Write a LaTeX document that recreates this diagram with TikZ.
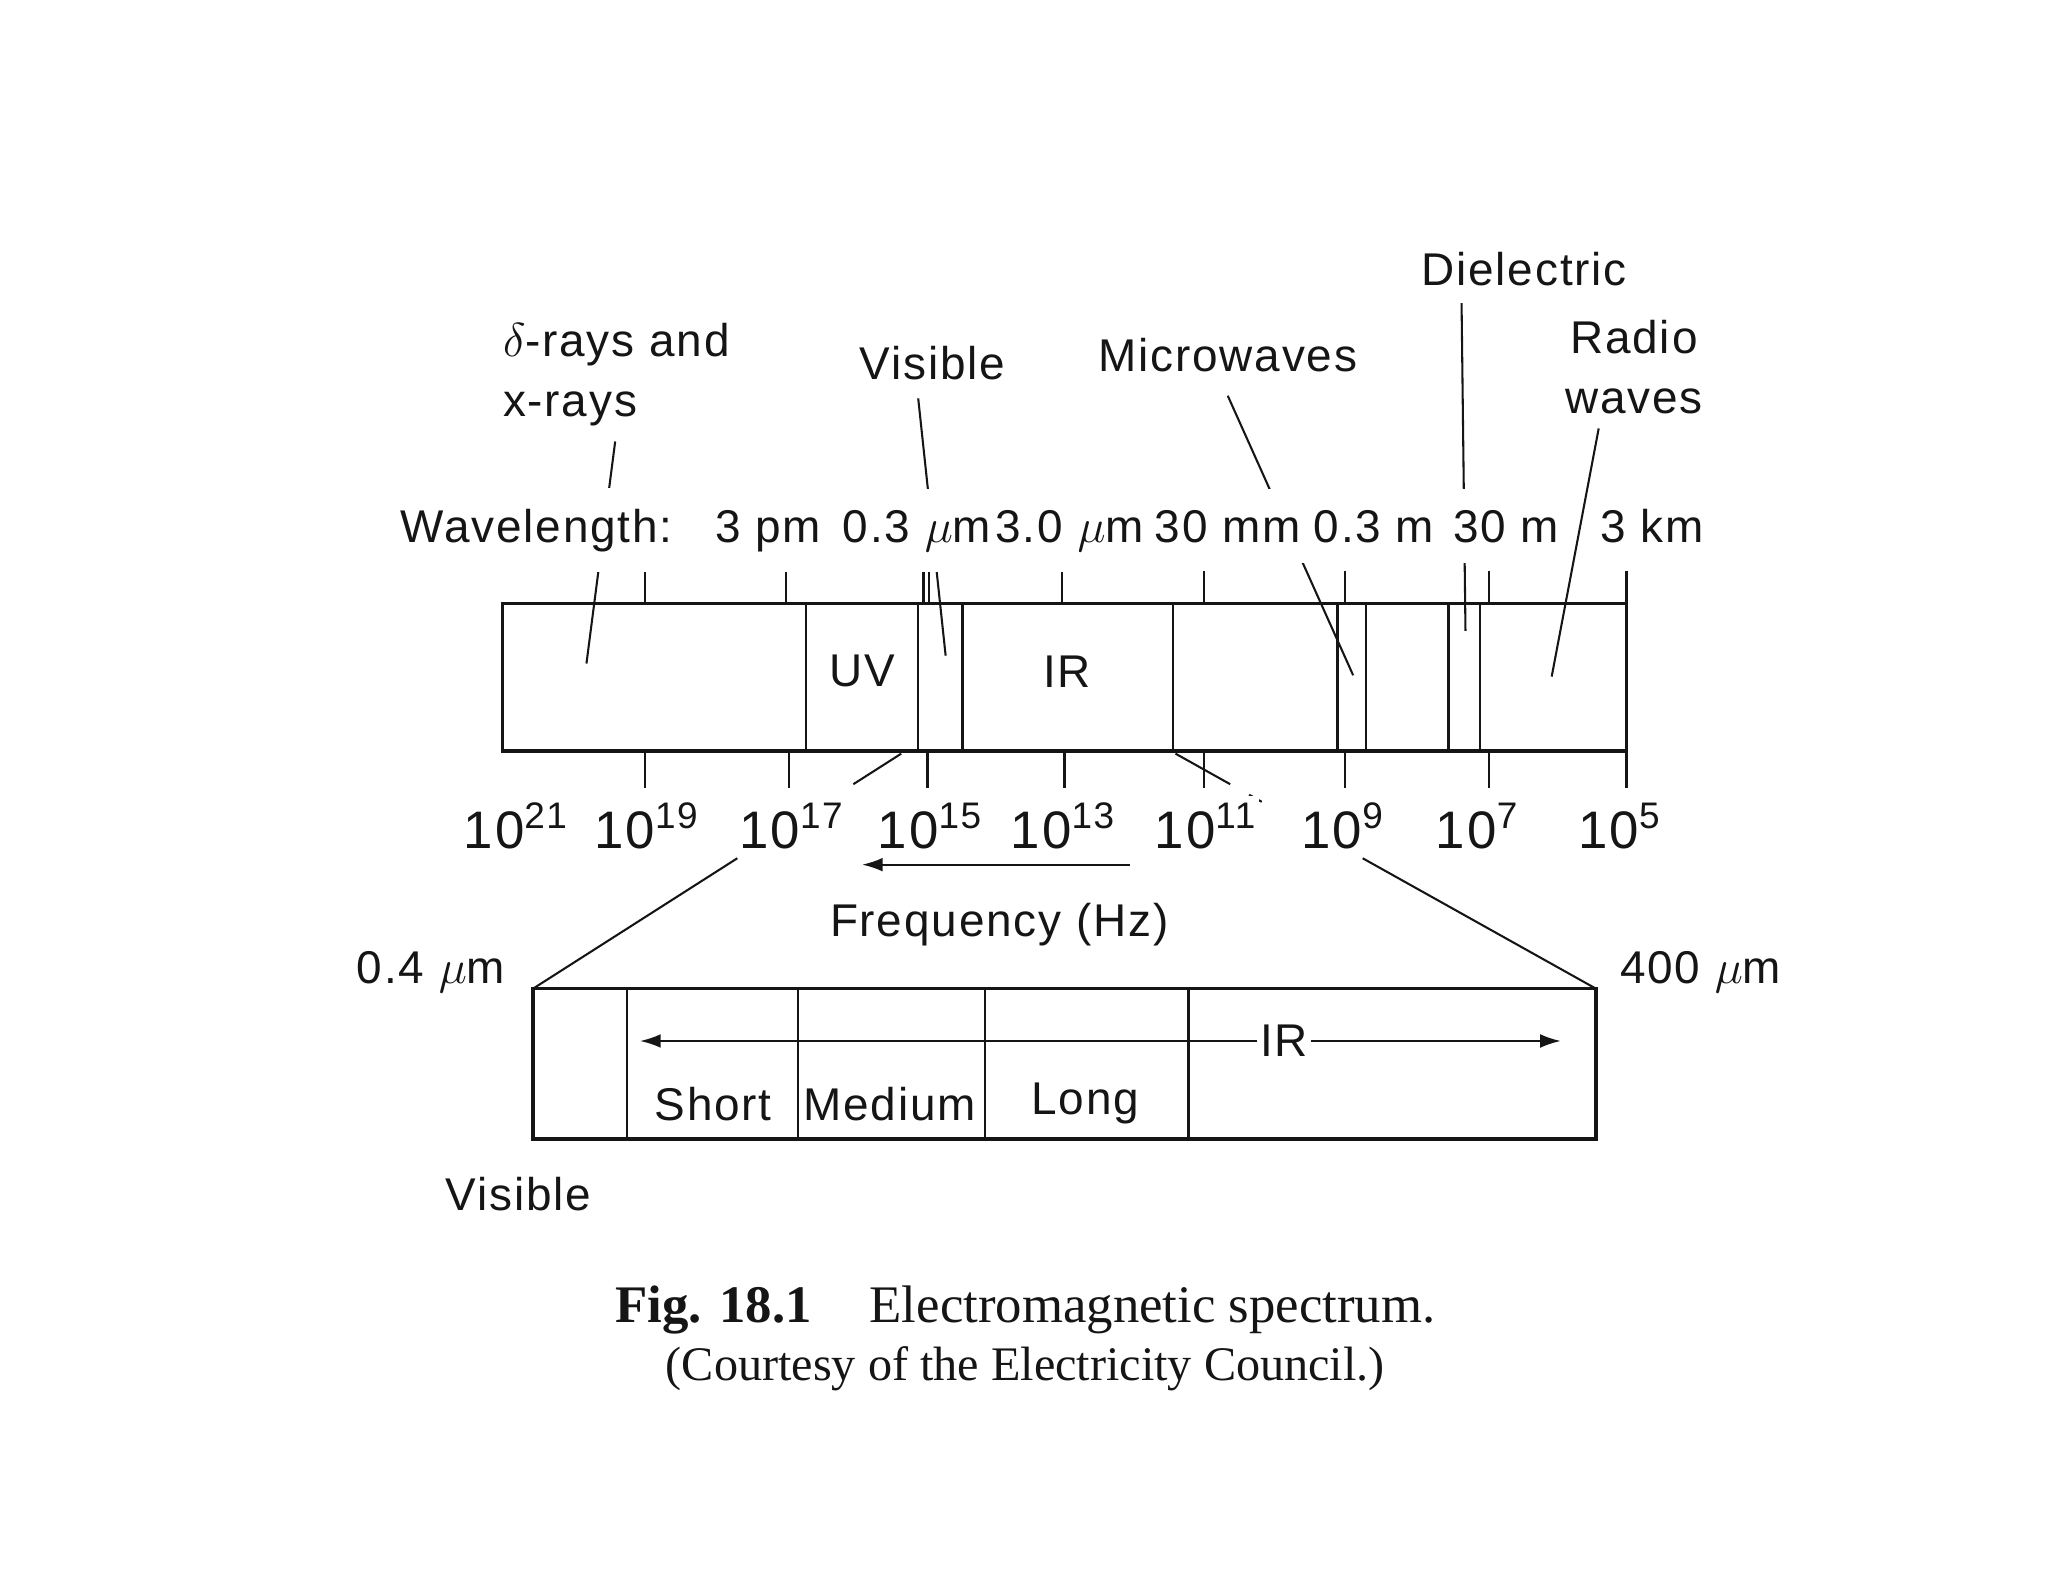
\documentclass[tikz,border=0pt]{standalone}
\usepackage{fontspec}
\setmainfont{Liberation Serif}
\newfontfamily\figsans[LetterSpace=4]{Liberation Sans}
\usetikzlibrary{arrows.meta,calc}
\definecolor{Ink}{HTML}{151515}
\tikzset{
  >=Latex,
  bar/.style={line width=1.4pt,draw=Ink},
  tck/.style={line width=1pt,draw=Ink},
  lead/.style={line width=.9pt,draw=Ink},
  lab/.style={font=\figsans\fontsize{20}{26}\selectfont,inner sep=1pt,align=center,text=Ink},
  wl/.style={lab,fill=white,inner xsep=1.5pt,inner ysep=9pt,anchor=base},
  fq/.style={lab,font=\figsans\fontsize{23}{27}\selectfont,fill=white,inner xsep=1pt,inner ysep=3pt,anchor=base},
  capt/.style={font=\fontsize{23}{27}\selectfont,inner sep=0pt,text=Ink},
  note/.style={font=\fontsize{21}{25}\selectfont,inner sep=0pt,text=Ink}
}

\begin{document}
\begin{tikzpicture}[x=0.2mm,y=-0.2mm]
  \useasboundingbox (0,0) rectangle (1568,1211);
  % spectrum bar
  \draw[bar] (1245,462) -- (385,462) -- (385,575) -- (1245,575);
  \draw[bar] (1245,437) -- (1245,603);
  \foreach \x in {617,703,737,898,1024,1046,1109,1133}
    \draw[tck] (\x,462) -- (\x,575);
  \foreach \x in {494,602,707,711,813,922,1030,1140}
    \draw[tck] (\x,437) -- (\x,462);
  \foreach \x in {494,604,710,815,922,1030,1140}
    \draw[tck] (\x,575) -- (\x,603);
  \node[lab] (uv) at (660,514) {UV};
  \node[lab] (ir) at (817,514) {IR};

  % band labels and leaders
  \node[lab,align=left,anchor=west] (gam) at (383,287) {$\delta$-rays and\\x-rays};
  \node[lab] (vis) at (714,278) {Visible};
  \node[lab] (mic) at (940,272) {Microwaves};
  \node[lab] (diel) at (1167,206) {Dielectric};
  \node[lab] (rad) at (1251,281) {Radio\\waves};
  \coordinate (gamT) at (471,338);  \coordinate (gamB) at (449,508);
  \coordinate (visT) at (703,305);  \coordinate (visB) at (724,502);
  \coordinate (micT) at (940,303);  \coordinate (micB) at (1036,517);
  \coordinate (dielT) at (1119,232); \coordinate (dielB) at (1122,483);
  \coordinate (radT) at (1224,328); \coordinate (radB) at (1188,518);
  \draw[lead] (gamT) -- (gamB);
  \draw[lead] (visT) -- (visB);
  \draw[lead] (micT) -- (micB);
  \draw[lead] (dielT) -- (dielB);

  % wavelength row
  \node[wl] (wlen) at (411,415) {Wavelength:};
  \node[wl] (w3pm) at (588,415) {3 pm};
  \node[wl] (w03um) at (702,415) {0.3 $\mu$m};
  \node[wl] (w3um) at (819,415) {3.0 $\mu$m};
  \node[wl] (w30mm) at (940,415) {30 mm};
  \node[wl] (w03m) at (1052,415) {0.3 m};
  \node[wl] (w30m) at (1153,415) {30 m};
  \node[wl] (w3km) at (1265,415) {3 km};
  \draw[lead] (radT) -- (radB);

  % lines to the enlarged part
  \coordinate (visL) at (690,577);  \coordinate (visR) at (900,577);
  \coordinate (bxNW) at (408,757);  \coordinate (bxNE) at (1222,757);
  \draw[lead] (visL) -- ($(visL)!.13!(bxNW)$) ($(visL)!.445!(bxNW)$) -- (bxNW);
  \draw[lead] (visR) -- ($(visR)!.13!(bxNE)$) ($(visR)!.445!(bxNE)$) -- (bxNE);
  \draw[lead] ($(visR)!.175!(bxNE)$) -- ($(visR)!.205!(bxNE)$);

  % frequency row
  \foreach \x/\e in {395/21,495/19,606/17,712/15,814/13,923/11,1028/9,1131/7,1240/5}
    \node[fq] (f\e) at (\x,650) {10\textsuperscript{\e}};
  \coordinate (fqA) at (865,662);  \coordinate (fqB) at (660,662);
  \draw[lead,-{Latex[length=9pt,width=6pt]}] (fqA) -- (fqB);
  \node[lab] (fqlab) at (765,708) {Frequency (Hz)};

  % enlarged visible / IR part
  \draw[bar] (bxNW) rectangle (1222,872);
  \foreach \x in {480,611,754,910}
    \draw[tck] (\x,757) -- (\x,872);
  \node[lab] (lo) at (330,744) {0.4 $\mu$m};
  \node[lab] (hi) at (1302,744) {400 $\mu$m};
  \node[lab] (irB) at (983,797) {IR};
  \coordinate (irW) at (490,797);  \coordinate (irE) at (1195,797);
  \draw[lead,-{Latex[length=9pt,width=6pt]}] (irB.west) -- (irW);
  \draw[lead,-{Latex[length=9pt,width=6pt]}] (irB.east) -- (irE);
  \node[lab] (short) at (546,845) {Short};
  \node[lab] (med) at (681,845) {Medium};
  \node[lab] (long) at (831,845) {Long};
  \node[lab] (visB2) at (397,914) {Visible};

  % caption
  \node[capt] (fig) at (785,1003) {\textbf{Fig. 18.1}\hspace{1.1em}Electromagnetic spectrum.};
  \node[note] (court) at (785,1048) {(Courtesy of the Electricity Council.)};
\end{tikzpicture}
\end{document}
